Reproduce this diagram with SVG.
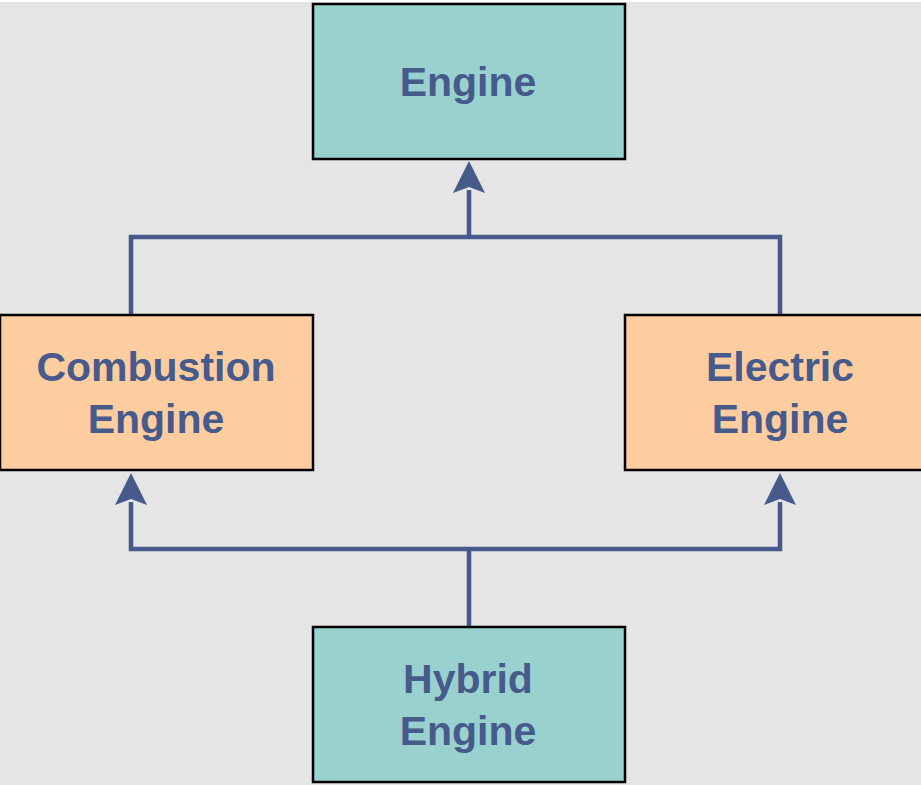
<svg xmlns="http://www.w3.org/2000/svg" width="921" height="785" viewBox="0 0 921 785">
<style>
.box{stroke:#000;stroke-width:2.5}
.teal{fill:#99d1ce}
.orange{fill:#fecd9f}
.lbl{font-family:"Liberation Sans",Arial,sans-serif;font-weight:bold;font-size:41px;fill:#475a8c;text-anchor:middle}
.conn{fill:none;stroke:#475a8c;stroke-width:4.5}
.head{fill:#475a8c}
</style>
<rect x="0" y="0" width="921" height="785" fill="#e5e5e5"/>
<rect x="0" y="0" width="921" height="2" fill="#ffffff"/>
<g id="connectors">
<path class="conn" d="M131,315 V237 H780 V314"/>
<path class="conn" d="M469,237 V190"/>
<path class="head" d="M469,161 L485,193 L469,187 L453,193 Z"/>
<path class="conn" d="M469,627 V549"/>
<path class="conn" d="M131,502 V549 H780 V502"/>
<path class="head" d="M131,473 L147,505 L131,499 L115,505 Z"/>
<path class="head" d="M780,473 L796,505 L780,499 L764,505 Z"/>
</g>
<g id="engine">
<rect class="box teal" x="313" y="4" width="312" height="155"/>
<text class="lbl" x="468" y="96">Engine</text>
</g>
<g id="combustion">
<rect class="box orange" x="0" y="315" width="313" height="155"/>
<text class="lbl" x="156" y="381">Combustion</text>
<text class="lbl" x="156" y="433">Engine</text>
</g>
<g id="electric">
<rect class="box orange" x="625" y="315" width="300" height="155"/>
<text class="lbl" x="780" y="381">Electric</text>
<text class="lbl" x="780" y="433">Engine</text>
</g>
<g id="hybrid">
<rect class="box teal" x="313" y="627" width="312" height="155"/>
<text class="lbl" x="468" y="693">Hybrid</text>
<text class="lbl" x="468" y="745">Engine</text>
</g>
</svg>
